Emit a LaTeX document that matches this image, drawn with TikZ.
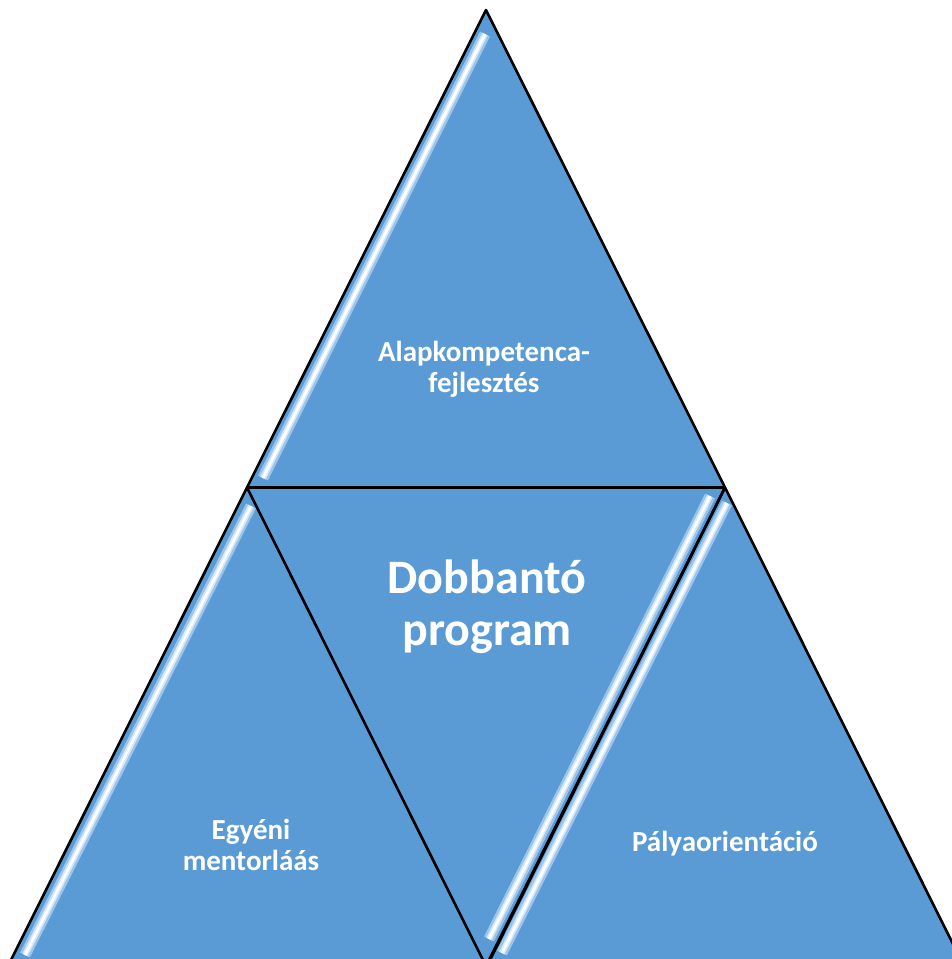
\documentclass[tikz,border=0pt]{standalone}
\usepackage{fontspec}
\setmainfont{Carlito}
\definecolor{tri}{HTML}{5B9BD5}
\definecolor{hlA}{HTML}{9CC5EC}
\definecolor{hlB}{HTML}{D6E9FA}
\begin{document}
\begin{tikzpicture}[x=1pt,y=-1pt,
  trishape/.style={fill=tri},
  triedge/.style={draw=black,line width=2.6pt,line join=round},
  lbl/.style={text=white,font=\bfseries,align=center,inner sep=0pt}]
\useasboundingbox (0,0) rectangle (952,959);
\clip (0,0) rectangle (952,959);
% vertices
\coordinate (T) at (486,10);
\coordinate (L) at (247,487.5);
\coordinate (R) at (725,487.5);
\coordinate (BL) at (8,966);
\coordinate (BM) at (486,966);
\coordinate (BM2) at (487,966);
\coordinate (BR) at (964,966);
% fills
\fill[trishape] (T) -- (L) -- (R) -- cycle;
\fill[trishape] (L) -- (BL) -- (BM) -- cycle;
\fill[trishape] (L) -- (R) -- (BM) -- cycle;
\fill[trishape] (R) -- (BM2) -- (BR) -- cycle;
% highlights
\newcommand{\hilite}[3]{%
  \begin{scope}
  \clip #1;
  \draw[hlA,line width=11pt,line cap=butt] #2 -- #3;
  \draw[hlB,line width=6pt,line cap=butt] #2 -- #3;
  \draw[white,line width=2.5pt,line cap=butt] #2 -- #3;
  \end{scope}}
\hilite{(T) -- (L) -- (R) -- cycle}{(485,34)}{(263,478)}
\hilite{(L) -- (BL) -- (BM) -- cycle}{(251,506)}{(25,955)}
\hilite{(L) -- (R) -- (BM) -- cycle}{(710,496)}{(489,939)}
\hilite{(R) -- (BM2) -- (BR) -- cycle}{(727,503)}{(502,953)}
% edges
\draw[triedge] (T) -- (L) -- (R) -- cycle;
\draw[triedge] (L) -- (BL);
\draw[triedge] (L) -- (BM);
\draw[triedge] (R) -- (BM);
\draw[triedge] (R) -- (BM2);
\draw[triedge] (R) -- (BR);
% labels
\node[lbl,font=\bfseries\fontsize{29}{31}\selectfont] (top) at (484,369) {Alapkompetenca-\\fejlesztés};
\node[lbl,font=\bfseries\fontsize{48}{52}\selectfont] (mid) at (487,607) {Dobbantó\\program};
\node[lbl,font=\bfseries\fontsize{29}{31}\selectfont] (left) at (251,845) {Egyéni\\mentorláás};
\node[lbl,font=\bfseries\fontsize{29}{31}\selectfont] (right) at (725,844) {Pályaorientáció};
\end{tikzpicture}
\end{document}
